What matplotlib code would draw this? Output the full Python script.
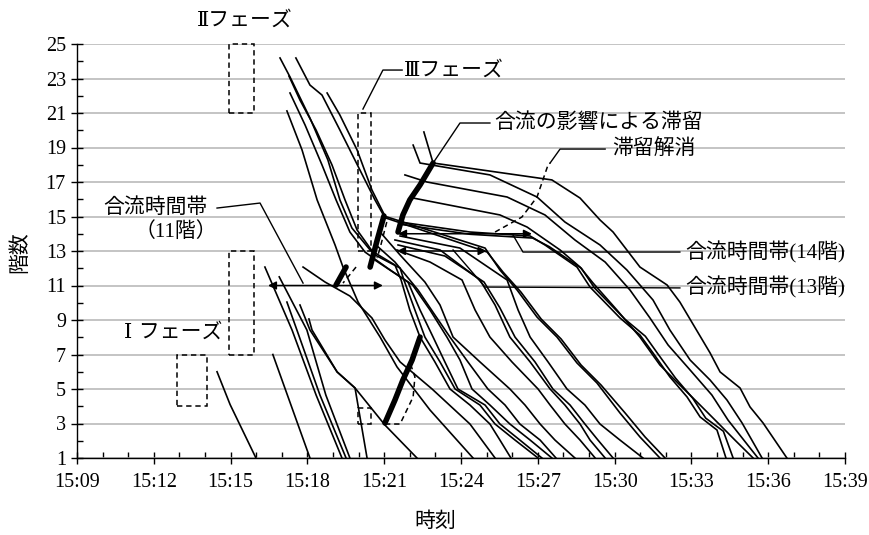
import matplotlib
matplotlib.use("Agg")
import matplotlib.pyplot as plt
from matplotlib.ticker import MultipleLocator
from matplotlib.patches import Rectangle

plt.rcParams['font.family'] = ['Liberation Serif', 'Noto Sans CJK JP']

# ---- axis data (time = minutes after 15:00) ----
x_tick_minutes = [9, 12, 15, 18, 21, 24, 27, 30, 33, 36, 39]
x_tick_labels = ['15:09', '15:12', '15:15', '15:18', '15:21', '15:24',
                 '15:27', '15:30', '15:33', '15:36', '15:39']
y_tick_floors = [1, 3, 5, 7, 9, 11, 13, 15, 17, 19, 21, 23, 25]

# ---- evacuee trajectories (time in minutes after 15:00, floor) ----
t01 = [14.47, 14.98, 15.99];                 f01 = [6, 4.1, 1]
t02 = [16.65, 18.1];                         f02 = [7, 1]
t03 = [16.34, 17.4, 18.34, 19.35];           f03 = [12.07, 8.42, 4.65, 1]
t04 = [17.2, 17.59, 18.49, 19.51];           f04 = [10.04, 8.42, 4.65, 1]
t05 = [16.9, 17.98, 18.72, 19.66];           f05 = [11.5, 8.42, 4.65, 1]
t06 = [18.06, 18.18, 19.16, 19.86, 20.33];   f06 = [9.06, 8.42, 5.99, 5.06, 1]
t07 = [17.71, 18.10, 19.16, 19.86, 21.03, 22.28]
f07 = [9.87, 8.42, 5.99, 5.06, 2.91, 1]
t08 = [17.83, 18.69, 19.66, 20.52, 21.03, 21.62, 22.87, 24.35, 25.33]
f08 = [12.07, 11.20, 10.39, 9.12, 7.84, 6.57, 5.00, 2.97, 1]
t09 = [16.93, 17.32, 18.10, 18.80, 19.27, 19.74, 20.45, 21.42, 21.66, 22.00,
       22.40, 22.98, 23.57, 24.35, 25.13, 25.52, 25.95]
f09 = [24.19, 23.09, 20.71, 18.28, 15.96, 14.33, 13.06, 12.19, 11.32, 9.58,
       8.01, 6.57, 5.00, 4.07, 2.97, 2.04, 1]
t10 = [17.28, 17.71, 18.34, 18.96, 19.47, 19.94, 20.64, 21.62, 21.77, 22.20,
       22.59, 23.18, 23.77, 24.74, 25.33, 26.11, 27.01]
f10 = [23.14, 21.75, 20.01, 17.99, 15.96, 14.22, 12.77, 12.01, 11.32, 9.58,
       8.01, 6.57, 5.00, 4.07, 2.97, 2.04, 1]
t11 = [17.32, 17.91, 18.57, 19.12, 19.66, 20.25, 21.23, 21.93, 22.40, 22.91,
       23.37, 23.88, 24.94, 25.52, 26.30, 27.16]
f11 = [22.16, 20.30, 17.99, 15.96, 14.10, 12.94, 11.90, 11.20, 9.58, 8.01,
       6.57, 5.00, 4.07, 2.97, 2.04, 1]
t12 = [17.20, 17.79, 18.38, 19.08, 19.39, 19.98, 20.84, 21.50, 22.79, 24.47]
f12 = [21.12, 18.86, 15.96, 13.35, 12.07, 10.04, 8.01, 6.28, 3.78, 1]
t13 = [17.55, 18.1, 18.57, 19.27, 20.05, 20.64, 20.99, 24.94, 25.52, 26.19,
       26.97, 27.75, 28.53, 29.31, 30.21, 30.99, 31.77]
f13 = [24.19, 22.62, 22.04, 20.01, 17.7, 15.96, 15.03, 13.17, 11.9, 10.74,
       9.17, 8.01, 6.51, 5.35, 3.61, 2.22, 1]
t14 = [18.77, 19.27, 19.94, 20.52, 21.07, 25.02, 25.64, 26.34, 27.13, 27.91,
       28.69, 29.47, 30.41, 31.19, 31.97]
f14 = [22.16, 20.88, 18.86, 16.54, 14.91, 12.94, 11.78, 10.62, 9.06, 7.9,
       6.39, 5.23, 3.61, 2.22, 1]
t15 = [20.52, 22.11, 22.79, 23.45, 23.96, 24.43, 25.13, 25.91, 26.70, 27.55]
f15 = [12.59, 11.03, 9.58, 8.01, 6.68, 5.00, 4.07, 2.97, 2.04, 1]
t16 = [20.68, 21.42, 22.32, 22.98, 23.57, 24.27, 25.05, 25.72, 26.30, 27.09, 27.71]
f16 = [13.35, 12.36, 10.74, 9.29, 8.01, 6.57, 5.00, 4.07, 2.97, 2.04, 1]
t17 = [20.84, 21.62, 22.59, 23.18, 23.69, 24.74, 25.91, 26.50, 27.09, 27.67, 28.45]
f17 = [14.10, 12.77, 11.20, 9.87, 8.01, 6.57, 5.00, 4.07, 2.97, 2.04, 1]
t18 = [21.50, 22.79, 24.04, 24.55, 25.13, 25.99, 27.01, 27.48, 28.06, 28.65, 29.24]
f18 = [13.06, 12.36, 11.32, 9.58, 8.01, 6.57, 5.00, 4.07, 2.97, 2.04, 1]
t19 = [21.42, 23.18, 24.74, 25.33, 25.91, 26.70, 27.48, 28.06, 28.65, 29.04, 29.63]
f19 = [13.64, 13.06, 11.32, 9.87, 8.01, 6.57, 5.00, 4.07, 2.97, 2.04, 1]
t20 = [21.54, 23.37, 24.90, 25.52, 26.11, 26.89, 27.59, 28.26, 28.84, 29.35, 29.94]
f20 = [13.35, 12.71, 11.20, 9.70, 8.01, 6.57, 5.00, 4.07, 2.97, 2.04, 1]
t21 = [21.62, 23.96, 25.80, 26.23, 26.70, 27.40, 28.14, 28.84, 29.43, 30.21, 31.11]
f21 = [13.87, 13.17, 11.32, 9.58, 8.01, 6.57, 5.00, 4.07, 2.97, 2.04, 1]
t22 = [22.55, 22.91, 27.55, 28.65, 29.43, 29.94, 30.99, 32.05, 32.55, 33.73,
       34.12, 34.9, 35.29, 35.8, 36.73]
f22 = [19.9, 18.1, 17.12, 16.07, 14.8, 14.1, 12.07, 11.03, 10.04, 7.09,
       5.99, 5.06, 3.96, 3.03, 1]
t23 = [22.13, 22.4, 25.13, 26.97, 28.06, 29.43, 30.48, 31.5, 32.16, 32.95,
       33.73, 34.39, 34.98, 35.76]
f23 = [19.14, 18.1, 17.41, 16.13, 14.68, 13.35, 11.9, 10.16, 8.42, 6.68,
       5.52, 4.36, 3.03, 1]
t24 = [21.81, 22.67, 25.8, 27.28, 28.45, 29.63, 30.6, 31.38, 32.09, 32.95,
       33.8, 34.43, 35.6]
f24 = [17.41, 17.0, 16.13, 15.09, 13.64, 12.36, 10.74, 9.12, 7.55, 6.1,
       4.65, 3.2, 1]
t25 = [22.13, 25.52, 26.58, 27.87, 28.65, 29.16, 30.09, 30.99, 31.77, 32.55,
       33.34, 34.12, 34.7, 35.41]
f25 = [16.07, 15.09, 14.39, 13.06, 12.07, 11.14, 9.58, 8.01, 6.39, 5.23,
       4.07, 2.91, 2.04, 1]
t26 = [21.62, 24.35, 26.7, 27.28, 28.53, 29.04, 30.21, 30.99, 31.5, 32.16,
       32.83, 33.34, 34.0, 34.35]
f26 = [14.68, 14.1, 13.87, 13.35, 12.07, 10.91, 9.12, 8.13, 7.09, 5.7,
       4.54, 3.38, 2.62, 1]
t27 = [21.62, 24.35, 26.8, 27.45, 28.7, 29.22, 30.4, 31.2, 31.7, 32.38,
       33.05, 33.56, 34.25, 34.63]
f27 = [14.55, 13.97, 13.75, 13.25, 12.0, 10.85, 9.05, 8.06, 7.02, 5.63,
       4.47, 3.31, 2.55, 1]

trajectories = [(t01, f01), (t02, f02), (t03, f03), (t04, f04), (t05, f05),
                (t06, f06), (t07, f07), (t08, f08), (t09, f09), (t10, f10),
                (t11, f11), (t12, f12), (t13, f13), (t14, f14), (t15, f15),
                (t16, f16), (t17, f17), (t18, f18), (t19, f19), (t20, f20),
                (t21, f21), (t22, f22), (t23, f23), (t24, f24), (t25, f25),
                (t26, f26), (t27, f27)]

# ---- queue-front (thick) lines ----
queue_a_t = [20.45, 20.72, 20.99];              queue_a_f = [12.07, 13.6, 15.03]
queue_b_t = [21.54, 21.73, 22.0, 22.4, 22.91];  queue_b_f = [14.1, 15.09, 15.96, 16.83, 18.1]
queue_c_t = [19.12, 19.51];                     queue_c_f = [11.03, 12.07]
queue_d_t = [21.03, 21.42, 21.73, 22.09, 22.4]; queue_d_f = [3.03, 4.36, 5.52, 6.68, 8.01]

# ---- dashed "queue released" lines ----
release_a_t = [25.33, 26.38, 26.97, 27.4, 27.48]; release_a_f = [14.1, 14.97, 16.13, 17.99, 18.1]
release_b_t = [21.1, 20.84, 20.72];               release_b_f = [14.68, 13.17, 12.59]
release_c_t = [19.9, 19.39];                      release_c_f = [12.07, 11.14]
release_d_t = [21.03, 21.62, 22.13, 22.2, 22.0];  release_d_f = [2.97, 2.97, 4.54, 5.7, 6.57]

# ---- phase boxes (t0, t1, f0, f1) ----
box_phase2_top = (14.95, 15.9, 21, 25)
box_phase2_mid = (14.95, 15.9, 7, 13)
box_phase1 = (12.92, 14.09, 4, 7)
box_phase3 = (19.98, 20.48, 13, 21)
box_small = (19.97, 20.5, 3, 3.9)

# ---- merge-period arrows (floor, t_start, t_end) ----
arrow_11 = (11, 16.46, 20.95)
arrow_13 = (13, 21.5, 25.0)
arrow_14 = (14, 21.54, 26.77)

fig = plt.figure(figsize=(8.7, 5.35), dpi=100)
ax = fig.add_axes([77/870, 1-458/535, 768/870, 414/535])
ax.set_xlim(9, 39)
ax.set_ylim(1, 25)

ax.set_xticks(x_tick_minutes)
ax.set_xticklabels(x_tick_labels)
ax.set_yticks(y_tick_floors)
ax.xaxis.set_minor_locator(MultipleLocator(1))
ax.yaxis.set_minor_locator(MultipleLocator(1))
ax.tick_params(which='major', direction='inout', length=9, width=1.0,
               labelsize=14.5, colors='black')
ax.tick_params(axis='x', which='major', pad=6)
ax.tick_params(which='minor', direction='in', length=4, width=1.0)
for s in ('top', 'right'):
    ax.spines[s].set_visible(False)
for s in ('left', 'bottom'):
    ax.spines[s].set_linewidth(1.0)
ax.yaxis.grid(True, which='major', color='#b4b4b4', lw=1.1)
ax.set_axisbelow(True)

for tt, ff in trajectories:
    ax.plot(tt, ff, color='black', lw=1.2, solid_joinstyle='miter')

for tt, ff in [(queue_a_t, queue_a_f), (queue_b_t, queue_b_f),
               (queue_c_t, queue_c_f), (queue_d_t, queue_d_f)]:
    ax.plot(tt, ff, color='black', lw=4.0, solid_capstyle='round')

for tt, ff in [(release_a_t, release_a_f), (release_b_t, release_b_f),
               (release_c_t, release_c_f), (release_d_t, release_d_f)]:
    ax.plot(tt, ff, color='black', lw=1.1, ls=(0, (3.5, 2.5)))

for (t0, t1, f0, f1) in [box_phase2_top, box_phase2_mid, box_phase1,
                         box_phase3, box_small]:
    ax.add_patch(Rectangle((t0, f0), t1 - t0, f1 - f0, fill=False,
                           ec='black', lw=1.1, ls=(0, (3.5, 2.5)), clip_on=False))

for (fl, ta, tb) in [arrow_11, arrow_13, arrow_14]:
    ax.annotate('', xy=(tb, fl), xytext=(ta, fl),
                arrowprops=dict(arrowstyle='<|-|>', color='black', lw=1.1,
                                mutation_scale=12, shrinkA=0, shrinkB=0))

# leader lines
leader_kw = dict(color='black', lw=1.0, clip_on=False)
ax.plot([20.17, 20.95, 21.7], [21.23, 23.49, 23.49], **leader_kw)
ax.plot([14.47, 16.15, 17.83], [15.49, 15.78, 11.14], **leader_kw)
ax.plot([22.91, 23.96, 25.13], [18.1, 20.42, 20.42], **leader_kw)
ax.plot([27.48, 27.87, 29.63], [18.1, 18.91, 18.91], **leader_kw)
ax.plot([26.03, 26.42, 32.55], [13.93, 12.94, 12.94], **leader_kw)
ax.plot([23.69, 24.94, 32.55], [13.06, 10.91, 10.86], **leader_kw)

fs = 15
roman = ['DejaVu Serif', 'Noto Sans CJK JP']
ax.text(15.56, 26.39, 'Ⅱフェーズ', fontsize=fs, ha='center', va='center',
        clip_on=False, family=roman)
ax.text(12.75, 8.3, 'Ⅰ フェーズ', fontsize=fs, ha='center', va='center', family=roman)
ax.text(21.75, 23.49, 'Ⅲフェーズ', fontsize=fs, ha='left', va='center', family=roman)
ax.text(12.05, 15.5, '合流時間帯', fontsize=fs, ha='center', va='center')
ax.text(12.87, 14.1, '（11階）', fontsize=fs, ha='center', va='center')
ax.text(25.3, 20.42, '合流の影響による滞留', fontsize=fs, ha='left', va='center')
ax.text(29.9, 18.91, '滞留解消', fontsize=fs, ha='left', va='center')
ax.text(32.75, 12.94, '合流時間帯(14階)', fontsize=fs, ha='left', va='center')
ax.text(32.75, 10.91, '合流時間帯(13階)', fontsize=fs, ha='left', va='center')

fig.text(435/870, 1-522/535, '時刻', fontsize=fs, ha='center', va='center')
fig.text(20/870, 1-252/535, '階数', fontsize=fs, ha='center', va='center', rotation=90)

fig.savefig('out.png', dpi=100)
